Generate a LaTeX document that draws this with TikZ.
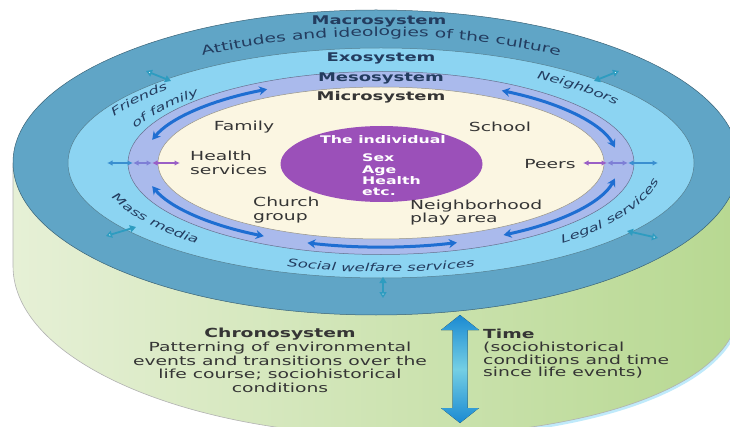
\documentclass[tikz,border=0pt]{standalone}
\usepackage{fontspec}
\setmainfont{DejaVu Sans}[FakeStretch=1.5]
\usetikzlibrary{arrows.meta,calc,decorations.text}

\definecolor{macro}{HTML}{60A5C6}
\definecolor{exo}{HTML}{8CD4F2}
\definecolor{meso}{HTML}{AABAEC}
\definecolor{micro}{HTML}{FBF6E2}
\definecolor{indiv}{HTML}{9B50B9}
\definecolor{navy}{HTML}{233C5F}
\definecolor{ink}{HTML}{353535}
\definecolor{bigblue}{HTML}{1E6ED2}
\definecolor{linkteal}{HTML}{2E9CC0}
\definecolor{sideblue}{HTML}{3A8FD0}
\definecolor{sideviolet}{HTML}{7E7FD6}
\definecolor{sidepurple}{HTML}{9A5FC6}
\definecolor{sideL}{HTML}{E6F0D6}
\definecolor{sideR}{HTML}{B7D891}
\definecolor{timeblue}{HTML}{1B8AD2}
\definecolor{timecyan}{HTML}{74CFE4}

\newcommand{\exofont}{\fontsize{11}{13}\selectfont\itshape\color{navy}}
\newcommand{\macrofont}{\fontsize{12.5}{14}\selectfont\color{navy}}

\tikzset{
    band/.style={fill=#1, draw=#1!60!black, line width=0.5pt},
    title/.style={font=\fontsize{12}{14}\selectfont\bfseries, text=navy},
    place/.style={font=\fontsize{12.5}{13.5}\selectfont, text=ink, align=left, inner sep=0pt},
    mesoarrow/.style={bigblue, line width=3pt, {Stealth[length=8pt,width=9pt]}-{Stealth[length=8pt,width=9pt]}},
    sidetip/.style={line width=1.4pt, {Latex[length=5.5pt,width=5.5pt]}-{Latex[length=5.5pt,width=5.5pt]}},
    link/.style={linkteal, line width=1.8pt, {Triangle[open,fill=white,length=6pt,width=7pt]}-{Triangle[length=6pt,width=7pt]}},
    arctext/.style={decorate, decoration={text along path, text align=center, text={#1}}},
    arctextleft/.style={decorate, decoration={text along path, text align=left, text={#1}}}
}

\begin{document}
\begin{tikzpicture}[x=1pt,y=1pt]
                \useasboundingbox (0,0) rectangle (730,426);
                \clip (0,0) rectangle (730,426);
                \fill[white] (0,0) rectangle (730,426);

                \coordinate (O) at (381,263);

                \draw[cyan!25, line width=6pt] (400,-10) .. controls (587,-10) and (739,40) .. (739,120);
                \draw[gray!60, line width=0.6pt, left color=sideL, right color=sideR] (13,263) -- (13,160) .. controls (13,66) and (186,-10) .. (400,-10) .. controls (587,-10) and (739,40) .. (739,120) -- (739,263) -- cycle;

                \filldraw[band=macro] (376,263.5) ellipse [x radius=363, y radius=152.5];
                \filldraw[band=exo] (O) ellipse [x radius=313, y radius=115];
                \filldraw[band=meso] (O) ellipse [x radius=253, y radius=91.5];
                \filldraw[band=micro] (O) ellipse [x radius=223, y radius=76];
                \fill[indiv] (381.5,262) ellipse [x radius=101, y radius=38];

                \node[title] (macrosys) at (379,405) {Macrosystem};
                \node[title] (exosys) at (381,368) {Exosystem};
                \node[title] (mesosys) at (381,348) {Mesosystem};
                \node[title, text=ink] (microsys) at (381,329) {Microsystem};

                \path[arctext={|\macrofont|Attitudes and ideologies of the culture}] ($(O)+(130:332 and 127)$) arc[start angle=130, end angle=50, x radius=332, y radius=127];

                \path[arctextleft={|\exofont|Friends}] ($(O)+(154:297 and 105)$) arc[start angle=154, end angle=110, x radius=297, y radius=105];
                \path[arctextleft={|\exofont|of family}] ($(O)+(158.5:264 and 93)$) arc[start angle=158.5, end angle=110, x radius=264, y radius=93];
                \path[arctextleft={|\exofont|Neighbors}] ($(O)+(57:286 and 101)$) arc[start angle=57, end angle=10, x radius=286, y radius=101];
                \path[arctextleft={|\exofont|Mass media}] ($(O)+(199:285 and 106)$) arc[start angle=199, end angle=250, x radius=285, y radius=106];
                \path[arctext={|\exofont|Social welfare services}] ($(O)+(240:300 and 109)$) arc[start angle=240, end angle=300, x radius=300, y radius=109];
                \path[arctextleft={|\exofont|Legal services}] ($(O)+(310:282 and 104.5)$) arc[start angle=310, end angle=365, x radius=282, y radius=104.5];

                \draw[mesoarrow] ($(O)+(164:238 and 84)$) arc[start angle=164, end angle=118.6, x radius=238, y radius=84];
                \draw[mesoarrow] ($(O)+(59.5:238 and 84)$) arc[start angle=59.5, end angle=10.6, x radius=238, y radius=84];
                \draw[mesoarrow] ($(O)+(196:238 and 84)$) arc[start angle=196, end angle=240.5, x radius=238, y radius=84];
                \draw[mesoarrow] ($(O)+(252:238 and 84)$) arc[start angle=252, end angle=288.6, x radius=238, y radius=84];
                \draw[mesoarrow] ($(O)+(301:238 and 84)$) arc[start angle=301, end angle=349.4, x radius=238, y radius=84];

                \coordinate (hl1) at (107,263);     \coordinate (hl2) at (133,263);
                \coordinate (hl3) at (152,263);     \coordinate (hl4) at (180,263);
                \coordinate (hr1) at (583,263);     \coordinate (hr2) at (607,263);
                \coordinate (hr3) at (628,263);     \coordinate (hr4) at (658,263);

                \draw[sidetip, sideblue] (hl1) -- (hl2);
                \draw[sidetip, sideviolet] (hl2) -- (hl3);
                \draw[sidetip, sidepurple] (hl3) -- (hl4);
                \draw[sidetip, sidepurple] (hr1) -- (hr2);
                \draw[sidetip, sideviolet] (hr2) -- (hr3);
                \draw[sidetip, sideblue] (hr3) -- (hr4);

                \coordinate (tlout) at (146,355);   \coordinate (tlin) at (171,345);
                \coordinate (trout) at (619,355);   \coordinate (trin) at (594,345);
                \coordinate (blout) at (106,190);   \coordinate (blin) at (136,199);
                \coordinate (brout) at (658,188);   \coordinate (brin) at (627,195);
                \coordinate (bout) at (383,128);    \coordinate (bin) at (383,149);

                \draw[link] (tlout) -- (tlin);
                \draw[link] (trout) -- (trin);
                \draw[link] (blout) -- (blin);
                \draw[link] (brout) -- (brin);
                \draw[link] (bout) -- (bin);

                \node[place] (family) at (244,299) {Family};
                \node[place, anchor=west] (health) at (190,263) {Health\\services};
                \node[place, anchor=west] (church) at (253,216) {Church\\group};
                \node[place] (school) at (500,299) {School};
                \node[place] (peers) at (550,262) {Peers};
                \node[place, anchor=west] (hood) at (410,213.5) {Neighborhood\\play area};

                \node[font=\fontsize{10.5}{11.3}\selectfont\bfseries, text=white] (self) at (383,286) {The individual};
                \node[font=\fontsize{10.5}{11.3}\selectfont\bfseries, text=white, align=left, anchor=west, inner sep=0pt] (traits) at (362,251) {Sex\\Age\\Health\\etc.};

                \fill[top color=timeblue, bottom color=timeblue, middle color=timecyan] (460,111) -- (479,96) -- (467.5,96) -- (467.5,18) -- (479,18) -- (460,3) -- (441,18) -- (452.5,18) -- (452.5,96) -- (441,96) -- cycle;

                \node[font=\fontsize{12.5}{13.7}\selectfont, text=ink, align=center] (chrono) at (280,65.5) {\textbf{Chronosystem}\\Patterning of environmental\\events and transitions over the\\life course; sociohistorical\\conditions};
                \node[font=\fontsize{12.5}{12.7}\selectfont, text=ink, align=left, anchor=west, inner sep=0pt] (time) at (483,72) {\textbf{Time}\\(sociohistorical\\conditions and time\\since life events)};
            \end{tikzpicture}
\end{document}
